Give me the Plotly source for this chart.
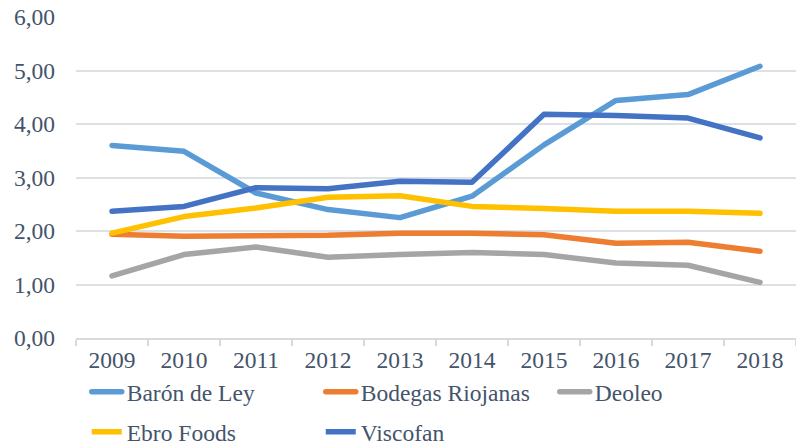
import plotly.graph_objects as go

years = ["2009", "2010", "2011", "2012", "2013", "2014", "2015", "2016", "2017", "2018"]
baron_de_ley = [3.60, 3.49, 2.71, 2.40, 2.25, 2.65, 3.61, 4.44, 4.55, 5.08]
bodegas_riojanas = [1.94, 1.90, 1.91, 1.92, 1.96, 1.96, 1.93, 1.77, 1.79, 1.62]
deoleo = [1.16, 1.56, 1.70, 1.51, 1.56, 1.60, 1.56, 1.40, 1.36, 1.04]
ebro_foods = [1.96, 2.27, 2.43, 2.63, 2.66, 2.46, 2.42, 2.37, 2.37, 2.33]
viscofan = [2.37, 2.46, 2.81, 2.79, 2.93, 2.91, 4.18, 4.16, 4.11, 3.74]

series = [
    ("Barón de Ley", baron_de_ley, "#5B9BD5", "legend"),
    ("Bodegas Riojanas", bodegas_riojanas, "#ED7D31", "legend"),
    ("Deoleo", deoleo, "#A5A5A5", "legend"),
    ("Ebro Foods", ebro_foods, "#FFC000", "legend2"),
    ("Viscofan", viscofan, "#4472C4", "legend2"),
]

FONT = "Liberation Serif, Times New Roman, serif"
TXT = "#44546A"
FS = 23.5

fig = go.Figure()
for name, vals, color, leg in series:
    fig.add_trace(go.Scatter(
        x=years, y=vals, name=name, mode="lines",
        line=dict(color=color, width=5.5),
        legend=leg,
    ))

legend_common = dict(
    orientation="h",
    xref="container", yref="container",
    xanchor="left", yanchor="middle",
    font=dict(family=FONT, size=FS, color=TXT),
    entrywidth=189, entrywidthmode="pixels",
    bgcolor="rgba(0,0,0,0)",
    itemwidth=30,
)

fig.update_layout(
    width=796, height=445,
    margin=dict(l=76, r=0, t=17, b=107, autoexpand=False),
    paper_bgcolor="white", plot_bgcolor="white",
    font=dict(family=FONT, size=FS, color=TXT),
    separators=",.",
    showlegend=True,
    legend=dict(x=0.109, y=0.119, **legend_common),
    legend2=dict(x=0.109, y=0.029, **legend_common),
    xaxis=dict(
        type="category",
        showgrid=False,
        showline=True, linecolor="#D9D9D9", linewidth=1.5,
        ticks="outside", tickson="boundaries", ticklen=6, tickcolor="#D9D9D9", tickwidth=1.5,
        tickfont=dict(family=FONT, size=FS, color=TXT),
        range=[-0.5, 9.5],
    ),
    yaxis=dict(
        range=[0, 6], dtick=1, tickformat=".2f",
        showgrid=True, gridcolor="#DDE1E6", gridwidth=1.5,
        zeroline=False, showline=False,
        ticks="", ticklabelstandoff=20,
        tickfont=dict(family=FONT, size=FS, color=TXT),
    ),
)

post = """
document.body.style.margin='0';
document.querySelectorAll('.scatterlayer path.js-line, .legend path.js-line').forEach(function(p){
  p.style.strokeLinecap='round'; p.style.strokeLinejoin='round';
});
"""

fig.write_html("out.html", config={"displayModeBar": False}, post_script=post)
